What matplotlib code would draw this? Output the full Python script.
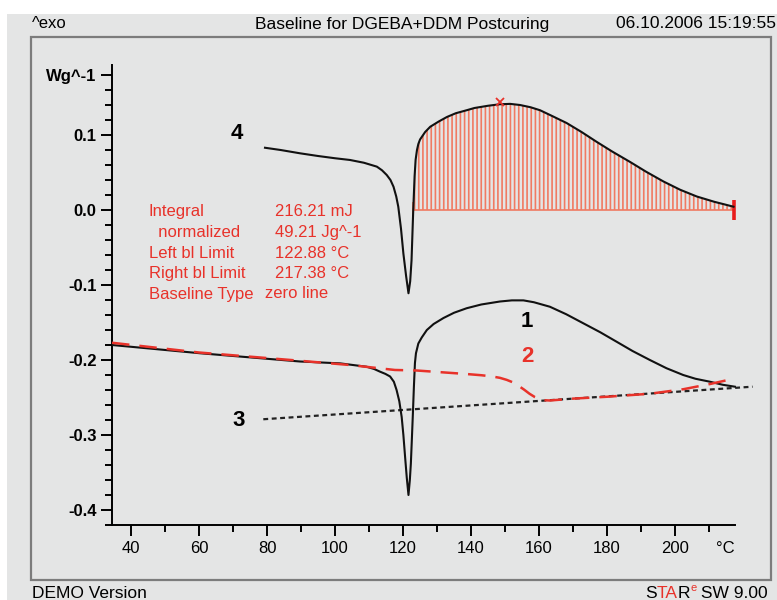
import matplotlib
matplotlib.use("Agg")
import matplotlib.pyplot as plt
from matplotlib.patches import Rectangle
import numpy as np

# ---------------- data ----------------
# curve 4 (post-cured sample, integrated peak)
t4 = [79.4, 84.0, 89.7, 95.0, 100.0, 104.4, 108.5, 112.3, 113.8, 115.2, 116.3, 117.2, 118.0,
      118.6, 119.4, 120.1, 120.9, 121.6, 122.1, 122.5, 123.0, 123.4, 123.7, 124.1, 124.5,
      125.0, 126.5, 128.0, 130.5, 132.9, 135.5, 138.7, 141.0, 145.0, 148.5, 151.5, 154.4,
      157.5, 160.3, 164.0, 168.1, 172.5, 176.9, 181.5, 186.8, 191.5, 196.6, 201.5, 206.4,
      211.5, 217.2]
y4 = [0.083, 0.080, 0.0756, 0.072, 0.069, 0.0667, 0.063, 0.0578, 0.053, 0.0467, 0.040, 0.031,
      0.018, 0.0044, -0.025, -0.058, -0.088, -0.111, -0.095, -0.067, 0.0, 0.045, 0.067, 0.080,
      0.088, 0.094, 0.104, 0.111, 0.118, 0.124, 0.129, 0.133, 0.136, 0.139, 0.141, 0.1415,
      0.140, 0.137, 0.133, 0.125, 0.116, 0.104, 0.091, 0.078, 0.064, 0.051, 0.038, 0.027,
      0.018, 0.011, 0.0044]

# curve 1
t1 = [34.4, 45.0, 60.3, 75.0, 89.7, 101.5, 109.3, 111.5, 113.2, 114.8, 116.2, 117.3, 118.1,
      118.9, 119.6, 120.1, 120.6, 121.1, 121.6, 122.0, 122.3, 122.6, 122.9, 123.2, 123.5,
      123.8, 124.5, 125.5, 127.0, 129.0, 131.9, 135.0, 138.7, 143.0, 148.5, 152.0, 155.4,
      158.5, 163.2, 168.0, 173.0, 178.0, 182.8, 187.5, 192.6, 197.5, 202.4, 206.0, 210.3,
      214.0, 217.6]
y1 = [-0.180, -0.1845, -0.191, -0.1965, -0.202, -0.2045, -0.209, -0.212, -0.2155, -0.2185,
      -0.222, -0.229, -0.240, -0.255, -0.276, -0.300, -0.329, -0.357, -0.380, -0.360, -0.338,
      -0.305, -0.271, -0.235, -0.204, -0.191, -0.178, -0.170, -0.160, -0.152, -0.144, -0.137,
      -0.131, -0.126, -0.122, -0.1205, -0.1205, -0.123, -0.129, -0.139, -0.151, -0.163,
      -0.1756, -0.188, -0.200, -0.211, -0.220, -0.225, -0.229, -0.233, -0.2356]

# curve 2 (red dashed)
t2 = [34.4, 60.0, 89.7, 104.4, 117.6, 124.0, 138.7, 143.0, 146.0, 148.5, 150.5, 152.3, 154.0,
      155.6, 157.2, 158.8, 160.3, 161.8, 163.2, 170.0, 180.0, 192.6, 202.4, 210.3, 216.2]
y2 = [-0.177, -0.190, -0.201, -0.2067, -0.2133, -0.214, -0.2187, -0.2203, -0.2218, -0.2238,
      -0.2265, -0.2298, -0.2345, -0.2395, -0.2450, -0.2495, -0.2524, -0.2537, -0.254,
      -0.2515, -0.249, -0.245, -0.239, -0.232, -0.226]

# curve 3 (dotted straight line)
t3 = [78.9, 222.8]
y3 = [-0.279, -0.2356]

peak_t, peak_y = 148.5, 0.141
left_limit, right_limit = 122.88, 217.38

x_major = [40, 60, 80, 100, 120, 140, 160, 180, 200]
x_minor = [50, 70, 90, 110, 130, 150, 170, 190, 210]
y_major = [-0.4, -0.3, -0.2, -0.1, 0.0, 0.1, 0.18]
y_major_labels = ['-0.4', '-0.3', '-0.2', '-0.1', '0.0', '0.1', 'Wg^-1']

info_labels = ['Integral', '  normalized', 'Left bl Limit', 'Right bl Limit', 'Baseline Type']
info_values = ['216.21 mJ', '49.21 Jg^-1', '122.88 °C', '217.38 °C', 'zero line']

# ---------------- styling ----------------
FONT = ['Liberation Sans', 'DejaVu Sans']
plt.rcParams['font.family'] = FONT
plt.rcParams['hatch.linewidth'] = 1.2
RED = '#e8322a'
HATCH = '#f07a62'
BG = '#e4e5e5'
W, H = 777, 600

fig = plt.figure(figsize=(W / 100, H / 100), dpi=100, facecolor='white')

def fx(px):
    return px / W

def fy(py):
    return 1 - py / H

# gray panel background
fig.patches.append(Rectangle((fx(7), 0), fx(W - 7), fy(14), transform=fig.transFigure,
                             facecolor=BG, edgecolor='none', zorder=-10))
# frame
fig.patches.append(Rectangle((fx(31), fy(580)), fx(771 - 31), (580 - 37) / H,
                             transform=fig.transFigure, facecolor='none',
                             edgecolor='#7c7c7c', lw=1.6, zorder=-5))

# axes placement: x 34.4 -> 112px, 3.4 px/degC ; y: 0.0 -> 210px, 750 px per unit
x0, x1 = 34.4, 228.0
yb, yt = -0.4205, 0.1933
left_px = 112
bot_px = 210 - yb * 750
top_px = 210 - yt * 750
ax = fig.add_axes([fx(left_px), fy(bot_px), (x1 - x0) * 3.4 / W, (bot_px - top_px) / H])
ax.set_xlim(x0, x1)
ax.set_ylim(yb, yt)
ax.patch.set_visible(False)

for s in ['top', 'right']:
    ax.spines[s].set_visible(False)
ax.spines['left'].set_linewidth(1.4)
ax.spines['bottom'].set_linewidth(1.4)
ax.spines['bottom'].set_bounds(x0, 217.6)

ax.set_xticks(x_major)
ax.set_xticks(x_minor, minor=True)
ax.set_yticks(y_major)
ax.set_yticklabels(y_major_labels)
ax.set_yticks(np.round(np.arange(-0.42, 0.181, 0.02), 2), minor=True)
ax.tick_params(which='major', length=8, width=1.4, labelsize=12, pad=3)
ax.tick_params(which='minor', length=5, width=1.4)
for lab in ax.get_yticklabels():
    lab.set_fontweight('bold')

ax.annotate('°C', xy=(214.7, yb), xytext=(0, -11), textcoords='offset points',
            ha='center', va='top', fontsize=12)

# hatch fill of the integrated peak
t4a = np.array(t4)
y4a = np.array(y4)
m = t4a >= 123.0
ax.fill_between(t4a[m], 0, y4a[m], facecolor='none', edgecolor=HATCH,
                hatch='||||', linewidth=0, zorder=1)
ax.plot([left_limit, right_limit], [0, 0], color=HATCH, lw=1.2, zorder=2)
ax.plot([left_limit], [0], marker='|', ms=11, mew=1.2, color=HATCH, zorder=3)
ax.plot([right_limit], [0], marker='|', ms=14, mew=2.6, color='#e81c1c', zorder=3)
ax.plot([peak_t], [peak_y + 0.003], marker='x', ms=6, mew=1.3, color=RED, zorder=4)

# curves
ax.plot(t4, y4, color='#111111', lw=1.5, zorder=3)
ax.plot(t1, y1, color='#111111', lw=1.5, zorder=3)
ax.plot(t3, y3, color='#222222', lw=1.6, linestyle=(0, (2.2, 1.6)), zorder=2)
ax.plot(t2, y2, color=RED, lw=1.8, linestyle=(0, (7, 4)), zorder=4)

# curve numbers
for tx, ty, s, c in [(71.2, 0.102, '4', 'black'), (156.5, -0.149, '1', 'black'),
                     (156.5, -0.195, '2', RED), (71.5, -0.28, '3', 'black')]:
    ax.text(tx, ty, s, fontsize=16, fontweight='bold', ha='center', va='center', color=c)

# red info block (figure pixel positions)
rows_y = [212, 232.5, 253, 273, 294]
for lab, val, ry in zip(info_labels, info_values, rows_y):
    fig.text(fx(149), fy(ry), lab, color=RED, fontsize=12, ha='left', va='center')
    vx = 265 if val == 'zero line' else 275
    fig.text(fx(vx), fy(ry), val, color=RED, fontsize=12, ha='left', va='center')

# header
fig.text(fx(32), fy(24), '^exo', fontsize=12, ha='left', va='center')
fig.text(fx(402), fy(24), 'Baseline for DGEBA+DDM Postcuring', fontsize=12.5, ha='center',
         va='center')
fig.text(fx(776), fy(24), '06.10.2006 15:19:55', fontsize=12.5, ha='right', va='center')

# footer
fig.text(fx(32), fy(593), 'DEMO Version', fontsize=12.5, ha='left', va='center')
renderer = fig.canvas.get_renderer()
t_sw = fig.text(fx(768), fy(593), ' SW 9.00', fontsize=12.5, ha='right', va='center')
xr = t_sw.get_window_extent(renderer).x0
t_e = fig.text(xr / W, fy(588), 'e', fontsize=8, color=RED, ha='right', va='center')
xr = t_e.get_window_extent(renderer).x0
t_r = fig.text(xr / W, fy(593), 'R', fontsize=12.5, ha='right', va='center')
xr = t_r.get_window_extent(renderer).x0
t_ta = fig.text(xr / W, fy(593), 'TA', fontsize=12.5, color=RED, ha='right', va='center')
xr = t_ta.get_window_extent(renderer).x0
fig.text(xr / W, fy(593), 'S', fontsize=12.5, ha='right', va='center')

fig.savefig('out.png', dpi=100, facecolor='white')
